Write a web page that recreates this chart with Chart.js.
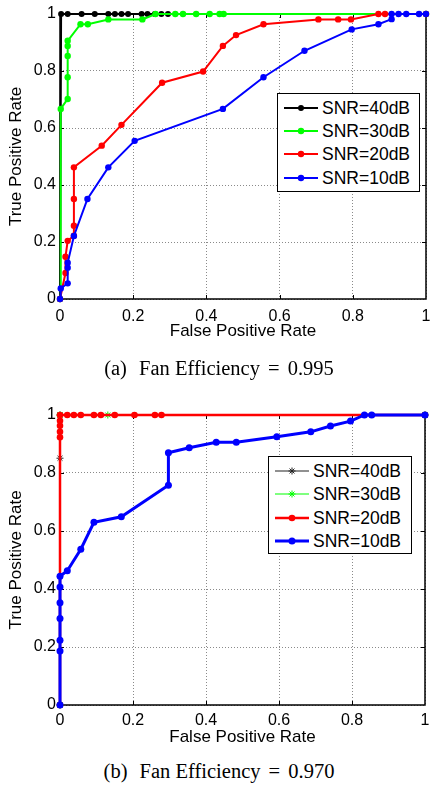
<!DOCTYPE html>
<html><head><meta charset="utf-8">
<script src="https://cdn.jsdelivr.net/npm/chart.js@4.4.0/dist/chart.umd.min.js"></script>
<style>
html,body{margin:0;padding:0;background:#fff;width:430px;height:785px;overflow:hidden;position:relative;font-family:"Liberation Sans",Arial,sans-serif;}
.box{position:absolute;left:0;width:430px;}
.legend{position:absolute;background:#fff;border:1px solid #000;box-sizing:border-box;}
.row{position:absolute;left:0;height:22px;display:flex;align-items:center;font-size:17.5px;color:#000;white-space:nowrap;}
.row svg{display:block;}
.cap{position:absolute;left:4px;width:430px;text-align:center;font-family:"Liberation Serif","Times New Roman",serif;font-size:20.5px;line-height:24px;color:#000;white-space:pre;}
.cap .lab{margin-right:7px;}
.cap .eq{margin:0 3px;}
</style></head><body>
<div class="box" style="top:0;height:345px;"><canvas id="c1"></canvas></div>
<div class="box" style="top:375px;height:380px;"><canvas id="c2"></canvas></div>
<div class="legend" id="leg1" style="left:277px;top:93px;width:143px;height:99px;"></div>
<div class="legend" id="leg2" style="left:268px;top:456px;width:144px;height:98px;"></div>
<div class="cap" style="top:356px;"><span class="lab">(a)</span> Fan Efficiency <span class="eq">=</span> 0.995</div>
<div class="cap" style="top:759px;"><span class="lab">(b)</span> Fan Efficiency <span class="eq">=</span> 0.970</div>
<script>
// ---- shared labels ----
const tickValues = [0, 0.2, 0.4, 0.6, 0.8, 1];
const tickLabels = ['0', '0.2', '0.4', '0.6', '0.8', '1'];
const xTitle = 'False Positive Rate';
const yTitle = 'True Positive Rate';
const seriesNames = ['SNR=40dB', 'SNR=30dB', 'SNR=20dB', 'SNR=10dB'];
const seriesColors = ['#000000', '#00ff00', '#ff0000', '#0000ff'];

// ---- (a) Fan Efficiency = 0.995 : [FPR, TPR] ----
const a_snr40 = [[0,0],[0.003,1],[0.021,1],[0.059,1],[0.095,1],[0.132,1],[0.150,1],[0.168,1],[0.186,1],[0.223,1],[0.239,1],[0.259,1],[0.277,1],[0.295,1]];
const a_snr30 = [[0,0],[0.002,0.667],[0.021,0.702],[0.021,0.778],[0.021,0.853],[0.021,0.888],[0.021,0.906],[0.056,0.964],[0.076,0.964],[0.132,0.981],[0.225,0.981],[0.261,1],[0.315,1],[0.336,1],[0.372,1],[0.409,1],[0.436,1],[0.447,1],[1,1]];
const a_snr20 = [[0,0],[0.015,0.091],[0.015,0.148],[0.021,0.204],[0.038,0.222],[0.038,0.257],[0.038,0.351],[0.038,0.462],[0.114,0.538],[0.168,0.611],[0.279,0.759],[0.391,0.798],[0.445,0.888],[0.481,0.926],[0.556,0.964],[0.706,0.981],[0.760,0.981],[0.795,0.981],[0.870,1],[0.888,1],[1,1]];
const a_snr10 = [[0,0],[0.002,0.037],[0.021,0.055],[0.021,0.110],[0.021,0.127],[0.038,0.221],[0.075,0.351],[0.132,0.462],[0.204,0.555],[0.445,0.667],[0.556,0.778],[0.668,0.871],[0.797,0.946],[0.870,0.964],[0.906,0.982],[0.906,1],[0.925,1],[0.946,1],[0.981,1],[1,1]];

// ---- (b) Fan Efficiency = 0.970 ----
const b_snr40 = [[0,0],[0,0.851],[0,1],[1,1]];
const b_snr30 = [[0,0],[0,1],[0.131,1],[1,1]];
const b_snr20 = [[0,0],[0,0.923],[0,0.942],[0,0.963],[0,0.980],[0,1],[0.020,1],[0.038,1],[0.057,1],[0.093,1],[0.112,1],[0.150,1],[0.204,1],[0.260,1],[0.278,1],[1,1]];
const b_snr10 = [[0,0],[0,0.186],[0,0.223],[0,0.298],[0,0.353],[0,0.407],[0,0.444],[0.020,0.463],[0.057,0.537],[0.093,0.630],[0.168,0.649],[0.297,0.758],[0.297,0.870],[0.354,0.887],[0.428,0.906],[0.483,0.906],[0.594,0.925],[0.687,0.942],[0.741,0.962],[0.796,0.979],[0.834,1],[0.854,1],[1,1]];

// styles per series (not data)
const styleA = [
  {lw:2, r:3, ps:'circle', col:seriesColors[0]},
  {lw:2, r:3.2, ps:'circle', col:seriesColors[1]},
  {lw:2, r:3.2, ps:'circle', col:seriesColors[2]},
  {lw:2, r:3.2, ps:'circle', col:seriesColors[3]}
];
const styleB = [
  {lw:1.2, r:3.5, ps:'star', col:'#222222'},
  {lw:1.2, r:3.5, ps:'star', col:seriesColors[1]},
  {lw:2.5, r:3.3, ps:'circle', col:seriesColors[2]},
  {lw:3, r:3.5, ps:'circle', col:seriesColors[3]}
];

const FONT = '"Liberation Sans", Arial, sans-serif';

const framePlugin = {
  id: 'frame',
  beforeDatasetsDraw(chart) {
    const {ctx, chartArea: a, scales} = chart;
    ctx.save();
    ctx.strokeStyle = '#000';
    ctx.lineWidth = 1;
    ctx.beginPath();
    const tl = 4;
    tickValues.slice(1, -1).forEach(v => {
      const px = Math.round(scales.x.getPixelForValue(v)) + 0.5;
      ctx.moveTo(px, a.bottom); ctx.lineTo(px, a.bottom - tl);
      ctx.moveTo(px, a.top); ctx.lineTo(px, a.top + tl);
      const py = Math.round(scales.y.getPixelForValue(v)) + 0.5;
      ctx.moveTo(a.left, py); ctx.lineTo(a.left + tl, py);
      ctx.moveTo(a.right, py); ctx.lineTo(a.right - tl, py);
    });
    ctx.stroke();
    ctx.lineWidth = 1.5;
    ctx.strokeRect(a.left, a.top, a.right - a.left, a.bottom - a.top);
    ctx.restore();
  }
};

function makeChart(id, series, styles, geo) {
  const datasets = series.map((pts, i) => ({
    label: seriesNames[i],
    data: pts.map(p => ({x: p[0], y: p[1]})),
    showLine: true,
    borderColor: styles[i].col,
    backgroundColor: styles[i].col,
    borderWidth: styles[i].lw,
    pointRadius: styles[i].r,
    pointStyle: styles[i].ps,
    pointBorderWidth: styles[i].ps === 'star' ? 1 : 0,
    pointBorderColor: styles[i].col,
    pointBackgroundColor: styles[i].col,
    tension: 0,
    clip: false,
    order: 4 - i
  }));
  const tickOpt = pad => ({
    color: '#000', font: {family: FONT, size: 16}, padding: pad,
    autoSkip: false, maxRotation: 0,
    callback: (v, i) => tickLabels[i]
  });
  return new Chart(document.getElementById(id), {
    type: 'scatter',
    data: {datasets},
    options: {
      responsive: true, maintainAspectRatio: false, animation: false,
      layout: {padding: {top: geo.top, right: geo.right, left: 0, bottom: 0}},
      plugins: {legend: {display: false}, tooltip: {enabled: false}},
      scales: {
        x: {
          type: 'linear', min: 0, max: 1,
          afterBuildTicks: s => { s.ticks = tickValues.map(v => ({value: v})); },
          afterFit: s => { s.height = geo.xh; s.paddingLeft = 0; s.paddingRight = 0; },
          ticks: tickOpt(geo.xpad),
          grid: {color: '#8a8a8a', drawTicks: false, lineWidth: 1},
          border: {display: false, dash: [1, 2]},
          title: {display: true, text: xTitle, color: '#000', font: {family: FONT, size: 17}, padding: {top: 0, bottom: geo.tpad}}
        },
        y: {
          type: 'linear', min: 0, max: 1,
          afterBuildTicks: s => { s.ticks = tickValues.map(v => ({value: v})); },
          afterFit: s => { s.width = 60; s.paddingTop = 0; s.paddingBottom = 0; },
          ticks: tickOpt(4),
          grid: {color: '#8a8a8a', drawTicks: false, lineWidth: 1},
          border: {display: false, dash: [1, 2]},
          title: {display: true, text: yTitle, color: '#000', font: {family: FONT, size: 17}, padding: {top: 6, bottom: 0}}
        }
      }
    },
    plugins: [framePlugin]
  });
}

makeChart('c1', [a_snr40, a_snr30, a_snr20, a_snr10], styleA, {top: 14, right: 3, xh: 46, xpad: 8, tpad: 3});
makeChart('c2', [b_snr40, b_snr30, b_snr20, b_snr10], styleB, {top: 40, right: 2, xh: 50, xpad: 6, tpad: 7});

function sampleSVG(st) {
  let mark;
  if (st.ps === 'star') {
    const r = st.r, c = 17, m = 5;
    mark = `<g stroke="${st.col}" stroke-width="1"><line x1="${c-r}" y1="${m}" x2="${c+r}" y2="${m}"/><line x1="${c}" y1="${m-r}" x2="${c}" y2="${m+r}"/><line x1="${c-r*0.7}" y1="${m-r*0.7}" x2="${c+r*0.7}" y2="${m+r*0.7}"/><line x1="${c-r*0.7}" y1="${m+r*0.7}" x2="${c+r*0.7}" y2="${m-r*0.7}"/></g>`;
  } else {
    mark = `<circle cx="17" cy="5" r="${st.r}" fill="${st.col}"/>`;
  }
  return `<svg width="34" height="10"><line x1="0" y1="5" x2="34" y2="5" stroke="${st.col}" stroke-width="${st.lw}"/>${mark}</svg>`;
}
function buildLegend(id, styles, rows) {
  const el = document.getElementById(id);
  seriesNames.forEach((name, i) => {
    const row = document.createElement('div');
    row.className = 'row';
    row.style.top = (rows[i] - 11) + 'px';
    row.innerHTML = `<span style="width:6px"></span>${sampleSVG(styles[i])}<span style="width:4px"></span><span>${name}</span>`;
    el.appendChild(row);
  });
}
buildLegend('leg1', styleA, [14, 37, 60, 84]);
buildLegend('leg2', styleB, [14, 37, 61, 84]);
</script>
</body></html>
